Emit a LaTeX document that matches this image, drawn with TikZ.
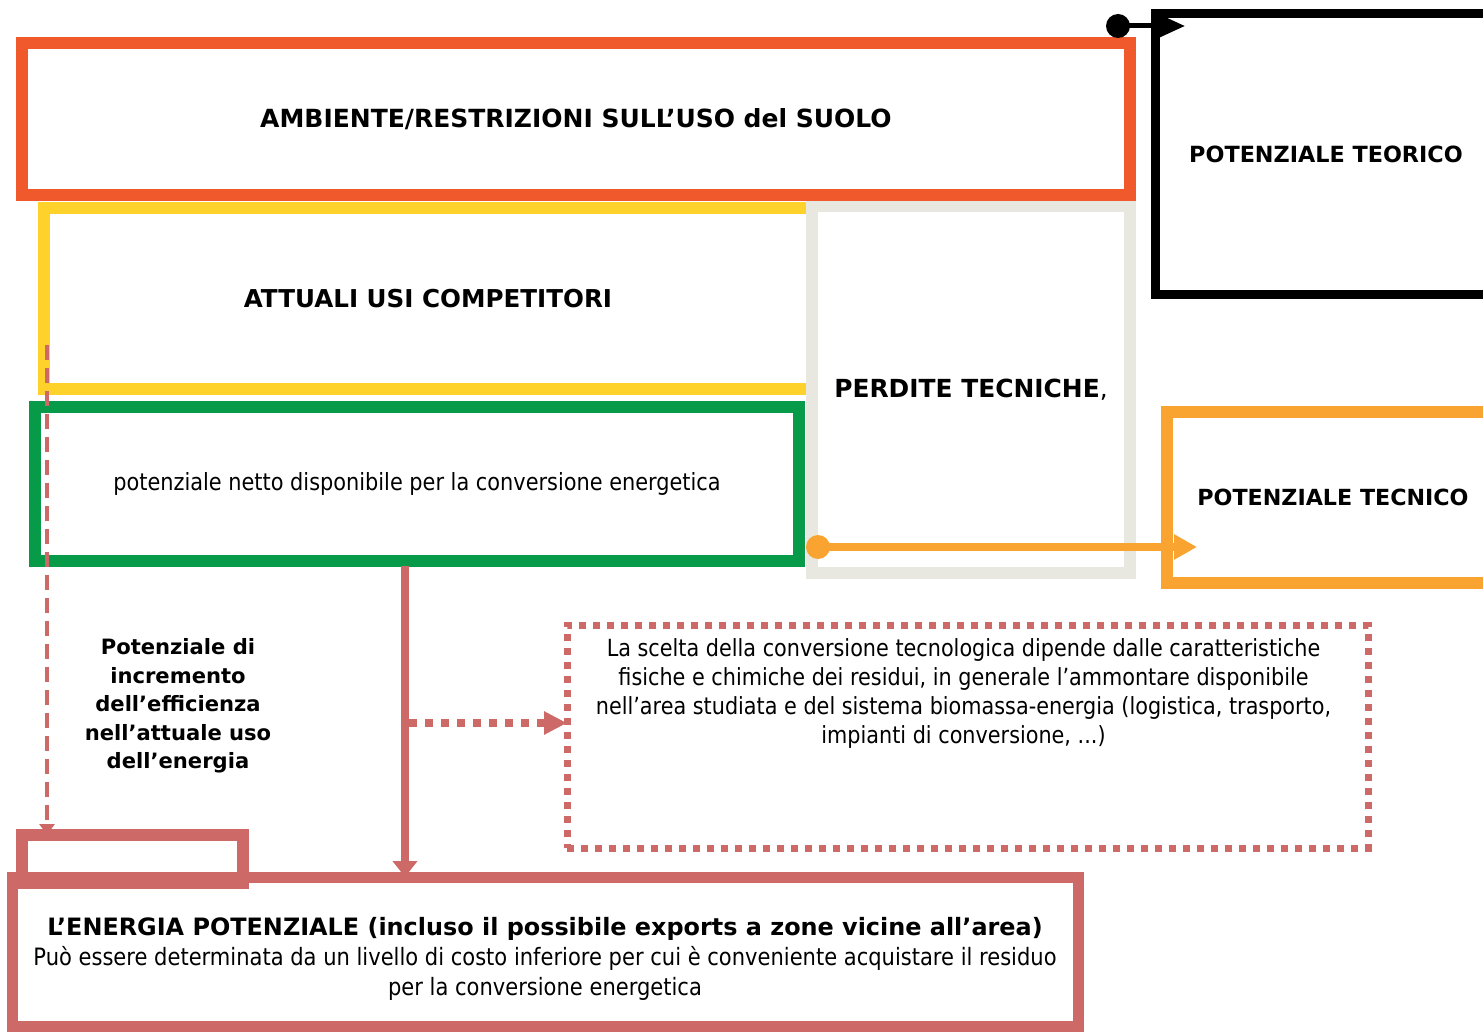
\documentclass[tikz,border=0pt]{standalone}
\usepackage{fontspec}
\setmainfont{DejaVu Sans}[FakeStretch=0.88]
\newfontfamily\bfont{DejaVu Sans}
\usetikzlibrary{arrows.meta}
\definecolor{cAmb}{HTML}{F0592B}
\definecolor{cYel}{HTML}{FFD22B}
\definecolor{cGry}{HTML}{E8E8E0}
\definecolor{cGrn}{HTML}{079A48}
\definecolor{cOrg}{HTML}{F9A430}
\definecolor{cRed}{HTML}{CD6A67}
\tikzset{
  box/.style={draw, rectangle, inner sep=0pt, outer sep=0pt, line width=12pt, align=center},
  txt/.style={font=\fontsize{23.6}{29}\selectfont, align=center, inner sep=0pt},
}
\begin{document}
\begin{tikzpicture}[x=1pt,y=-1pt]
\useasboundingbox (0,0) rectangle (1483,1032);
% boxes
\node[box, draw=cYel, minimum width=768pt, minimum height=181pt, font=\bfont\bfseries\fontsize{24.6}{29}\selectfont] (att) at (428,298.5) {ATTUALI USI COMPETITORI};
\node[box, draw=cGry, minimum width=318pt, minimum height=367pt, font=\bfont\bfseries\fontsize{24.9}{29}\selectfont] (perd) at (971,389.5) {PERDITE TECNICHE{\mdseries ,}};
\node[box, draw=cAmb, minimum width=1108pt, minimum height=152pt, font=\bfont\bfseries\fontsize{25}{30}\selectfont] (amb) at (576,119) {AMBIENTE/RESTRIZIONI SULL’USO del SUOLO};
\node[box, draw=cGrn, minimum width=764pt, minimum height=154pt, font=\fontsize{23.7}{28}\selectfont] (net) at (417,484) {potenziale netto disponibile per la conversione energetica};
\node[box, draw=black, line width=9pt, minimum width=342pt, minimum height=280.5pt, font=\bfont\bfseries\fontsize{22.3}{28}\selectfont] (teor) at (1326,154.25) {POTENZIALE TEORICO};
\node[box, draw=cOrg, minimum width=332pt, minimum height=171pt, font=\bfont\bfseries\fontsize{22.2}{28}\selectfont] (tecn) at (1333,497.5) {POTENZIALE TECNICO};
\node[box, draw=cRed, minimum width=221pt, minimum height=48pt] (small) at (132.5,859) {};
\node[box, draw=cRed, line width=11pt, minimum width=1066pt, minimum height=149pt] (energia) at (545,951.5) {};
\node[box, draw=cRed, line width=7pt, dash pattern=on 7pt off 7pt, minimum width=801pt, minimum height=223pt] (scelta) at (967.5,736.5) {};
% texts
\node[txt, font=\fontsize{23.9}{30}\selectfont, anchor=center] (entxt) at (545,959) {{\bfont\bfseries\fontsize{23.9}{30}\selectfont L’ENERGIA POTENZIALE (incluso il possibile exports a zone vicine all’area)}\\Può essere determinata da un livello di costo inferiore per cui è conveniente acquistare il residuo\\per la conversione energetica};
\node[txt, anchor=north] (sctxt) at (963.5,638) {La scelta della conversione tecnologica dipende dalle caratteristiche\\fisiche e chimiche dei residui, in generale l’ammontare disponibile\\nell’area studiata e del sistema biomassa-energia (logistica, trasporto,\\impianti di conversione, ...)};
\node[txt, font=\bfont\bfseries\fontsize{21.1}{28.6}\selectfont] (incr) at (178,706) {Potenziale di\\incremento\\dell’efficienza\\nell’attuale uso\\dell’energia};
% connectors
\coordinate (bs) at (1118,26);
\coordinate (be) at (1185,26);
\fill[black] (bs) circle (12pt);
\draw[line width=5pt, -{Triangle[length=28pt,width=24pt]}] (bs) -- (be);
\coordinate (os) at (818,547);
\coordinate (oe) at (1197,547);
\fill[cOrg] (os) circle (12pt);
\draw[cOrg, line width=8pt, -{Triangle[length=23pt,width=24pt]}] (os) -- (oe);
\coordinate (rs) at (405,566);
\draw[cRed, line width=8pt, -{Triangle[length=16pt,width=24pt]}] (rs) -- (rs |- energia.north);
\coordinate (ds) at (409,723);
\draw[cRed, line width=8pt, dash pattern=on 8pt off 8pt, -{Triangle[length=23pt,width=22pt]}] (ds) -- (ds -| scelta.west);
\coordinate (vs) at (47,345);
\draw[cRed, line width=4pt, dash pattern=on 15pt off 8pt, -{Triangle[length=11pt,width=15pt]}] (vs) -- (vs |- small.north);
\end{tikzpicture}
\end{document}
